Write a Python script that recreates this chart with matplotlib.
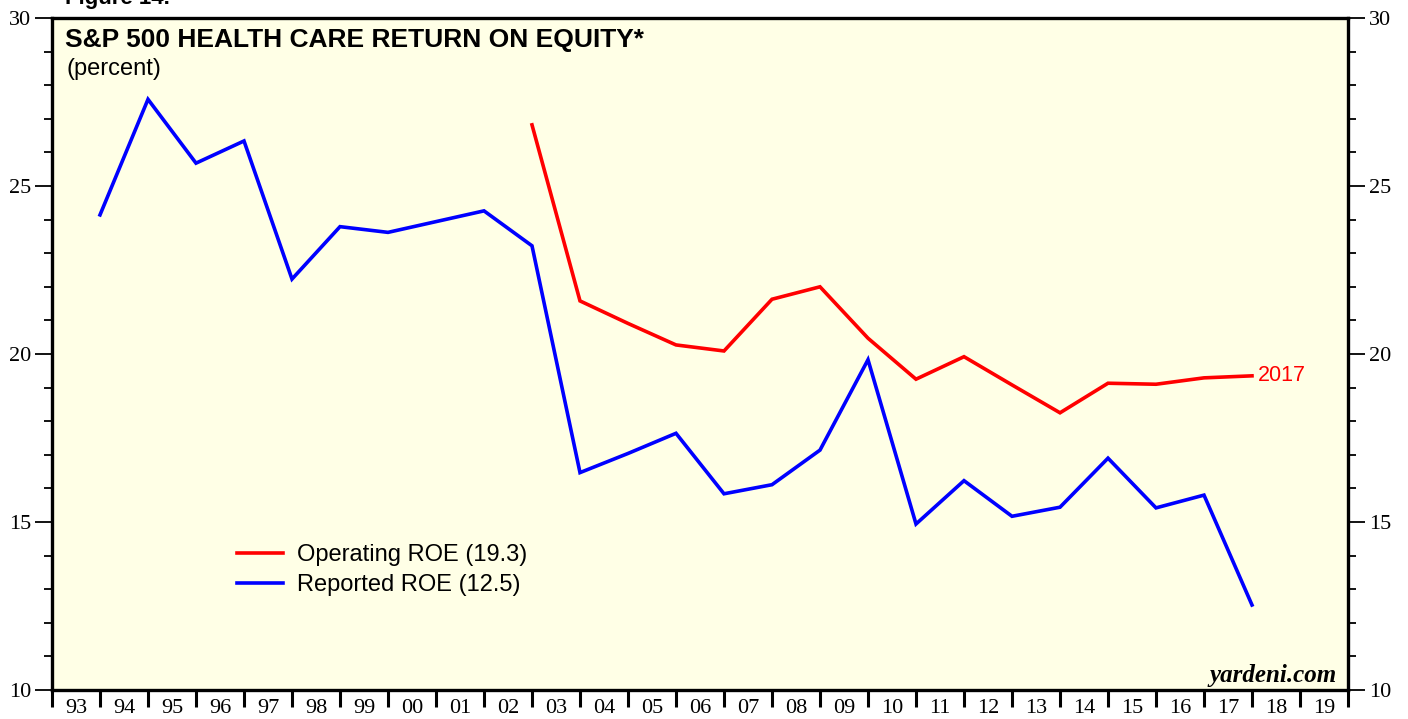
"""S&P 500 health care return on equity chart"""
import matplotlib.pyplot as plt
import numpy as np

# year-end values, plotted at the end of each year
reported_years = list(range(1993, 2018))
reported_roe = [24.14, 27.58, 25.68, 26.34, 22.23, 23.79, 23.62, 23.94, 24.26, 23.22,
                16.47, 17.04, 17.64, 15.84, 16.11, 17.14, 19.83, 14.94, 16.23, 15.17,
                15.44, 16.90, 15.42, 15.80, 12.53]
operating_years = list(range(2002, 2018))
operating_roe = [26.82, 21.58, 20.91, 20.27, 20.09, 21.63, 22.00, 20.47, 19.25, 19.92,
                 19.08, 18.25, 19.13, 19.10, 19.29, 19.35]
year_labels = ['93', '94', '95', '96', '97', '98', '99', '00', '01', '02', '03', '04',
               '05', '06', '07', '08', '09', '10', '11', '12', '13', '14', '15', '16',
               '17', '18', '19']

SANS = ['Liberation Sans', 'DejaVu Sans']
SERIF = ['Liberation Serif', 'DejaVu Serif']


def main():
    fig = plt.figure(figsize=(14.08, 7.19), dpi=100)
    ax = fig.add_axes([52 / 1408, 1 - 690 / 719, 1296 / 1408, 672 / 719])
    ax.set_facecolor('#ffffe6')

    ax.plot(np.array(reported_years) + 1, reported_roe, color='#0000ff', lw=2.6,
            label='Reported ROE (12.5)', solid_joinstyle='miter')
    ax.plot(np.array(operating_years) + 1, operating_roe, color='#ff0000', lw=2.6,
            label='Operating ROE (19.3)', solid_joinstyle='miter')

    ax.set_xlim(1993, 2020)
    ax.set_ylim(10, 30)

    for side in ax.spines.values():
        side.set_linewidth(2.4)

    # x axis: boundary ticks, labels centred on each year
    ax.set_xticks(np.arange(1993, 2021))
    ax.set_xticklabels([])
    ax.set_xticks(np.arange(1993, 2020) + 0.5, minor=True)
    ax.set_xticklabels(year_labels, minor=True, fontfamily=SERIF, fontsize=16)
    ax.tick_params(axis='x', which='major', direction='out', length=12, width=2.2)
    ax.tick_params(axis='x', which='minor', length=0, pad=6.5)

    # y axis on both sides
    ax.set_yticks([10, 15, 20, 25, 30])
    ax.set_yticks(np.arange(10, 31), minor=True)
    ax.tick_params(axis='y', which='both', left=True, right=True,
                   labelleft=True, labelright=True, direction='out')
    ax.tick_params(axis='y', which='major', length=12, width=1.3, pad=3)
    ax.tick_params(axis='y', which='minor', length=6, width=1.3)
    for lbl in ax.get_yticklabels():
        lbl.set_fontfamily(SERIF)
        lbl.set_fontsize(16)

    ax.text(0.010, 0.957, 'S&P 500 HEALTH CARE RETURN ON EQUITY*', transform=ax.transAxes,
            fontfamily=SANS, fontsize=19, fontweight='bold', va='baseline', ha='left')
    ax.text(0.011, 0.915, '(percent)', transform=ax.transAxes,
            fontfamily=SANS, fontsize=17, va='baseline', ha='left')
    ax.text(2018.12, operating_roe[-1], '2017', color='#ff0000',
            fontfamily=SANS, fontsize=15.5, va='center', ha='left')
    ax.text(0.991, 0.012, 'yardeni.com', transform=ax.transAxes, fontfamily=SERIF,
            fontsize=18, fontweight='bold', fontstyle='italic', ha='right', va='baseline')

    handles, labels = ax.get_legend_handles_labels()
    ax.legend(handles[::-1], labels[::-1], loc='center left', bbox_to_anchor=(0.1427, 0.1785),
              frameon=False, prop={'family': SANS, 'size': 17}, handlelength=1.95,
              handletextpad=0.6, labelspacing=0.32, borderaxespad=0, borderpad=0)

    fig.text(65 / 1408, 1 - 4 / 719, 'Figure 14.', fontfamily=SANS, fontsize=16,
             fontweight='bold', va='baseline', ha='left')

    fig.savefig('out.png', dpi=100, facecolor='white')


if __name__ == '__main__':
    main()
